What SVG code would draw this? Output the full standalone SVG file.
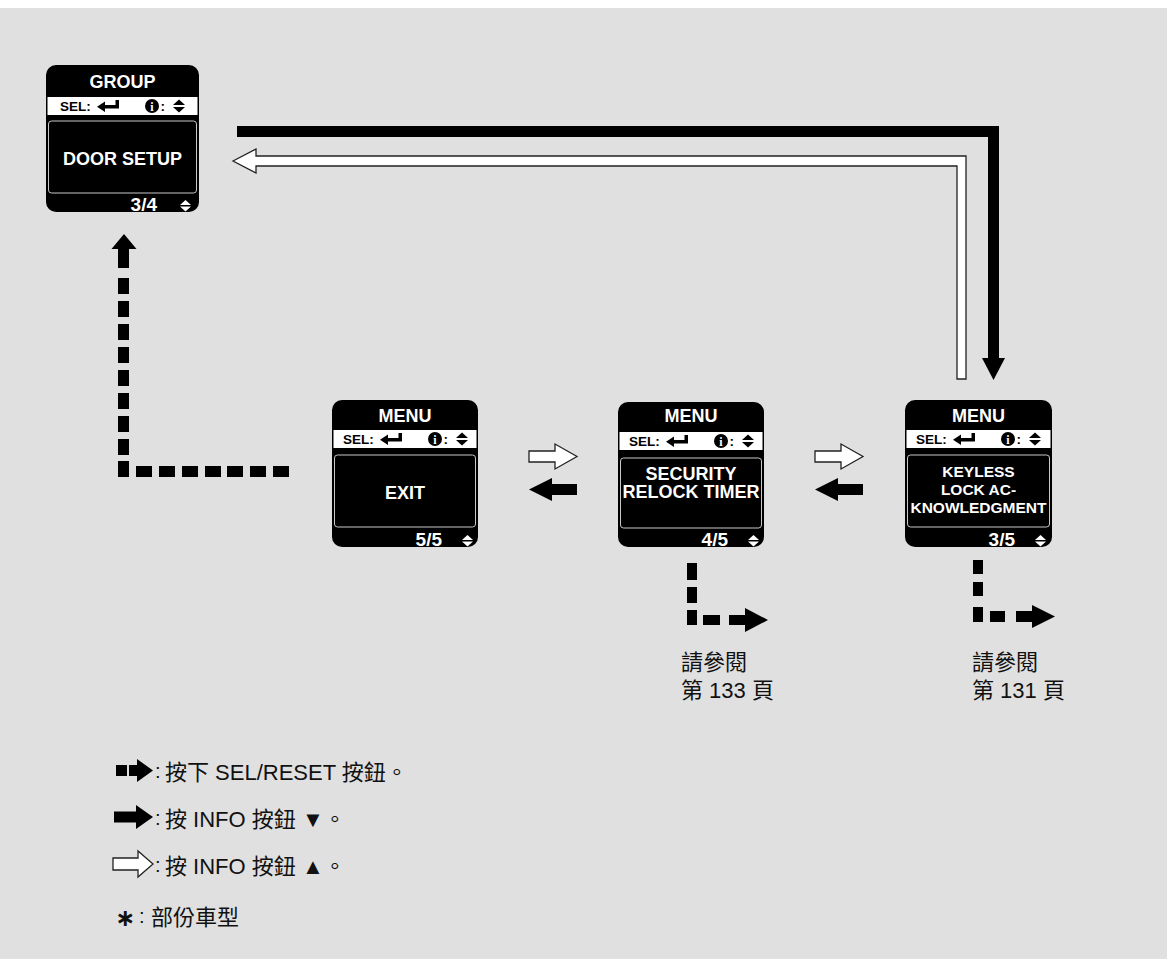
<svg xmlns="http://www.w3.org/2000/svg" xmlns:xlink="http://www.w3.org/1999/xlink" width="1167" height="959" viewBox="0 0 1167 959">
<defs>
<style>
.ttl{font:bold 18px "Liberation Sans",Arial,sans-serif;fill:#fff;text-anchor:middle}
.sel{font:bold 13.5px "Liberation Sans",Arial,sans-serif;fill:#000}
.ii{font:bold 12px "Liberation Serif","Times New Roman",serif;fill:#fff;text-anchor:middle}
.body{font:bold 18px "Liberation Sans",Arial,sans-serif;fill:#fff;text-anchor:middle}
.small{font:bold 15.5px "Liberation Sans",Arial,sans-serif;fill:#fff;text-anchor:middle}
.ft{font:bold 19px "Liberation Sans",Arial,sans-serif;fill:#fff;text-anchor:end}
.cn{font:22px "Liberation Sans","Noto Sans CJK TC",sans-serif;fill:#111}
.col{font:20px "Liberation Sans",Arial,sans-serif;fill:#111}
.frame{fill:none;stroke:#c8c8c8;stroke-width:1}
.wa{fill:#fff;stroke:#222;stroke-width:1.3;stroke-linejoin:miter}
.blk{fill:#000}
</style>
<g id="bar">
<text x="11" y="14" class="sel">SEL:</text>
<path d="M48,9.75 L56,4.5 L56,8 L66.5,8 L66.5,3 L70,3 L70,11.5 L56,11.5 L56,15 Z" fill="#000"/>
<circle cx="103" cy="9" r="7" fill="#000"/>
<text x="103" y="13.5" class="ii">i</text>
<text x="111.5" y="14" class="sel">:</text>
<polygon points="124,8 136,8 130,2.5" fill="#000"/>
<polygon points="124,10 136,10 130,15.5" fill="#000"/>
</g>
<g id="ud" fill="#fff">
<polygon points="0,5 11,5 5.5,0"/>
<polygon points="0,6.5 11,6.5 5.5,11.5"/>
</g>
</defs>

<rect x="0" y="0" width="1167" height="959" fill="#e0e0e0"/>
<rect x="0" y="0" width="1167" height="8" fill="#ffffff"/>

<g id="connectors">
<path d="M237,131.5 H993.5 V359" fill="none" stroke="#000" stroke-width="11"/>
<polygon points="982,358 1005,358 993.5,380" class="blk"/>
<polygon points="233,161 256,149 256,156 966,156 966,379 957,379 957,166 256,166 256,173" class="wa"/>
<g class="blk">
<polygon points="111.5,249 136.5,249 124,234"/>
<rect x="118" y="248" width="11" height="20"/>
<rect x="118" y="278" width="11" height="16"/>
<rect x="118" y="301" width="11" height="16"/>
<rect x="118" y="324" width="11" height="16"/>
<rect x="118" y="347" width="11" height="16"/>
<rect x="118" y="370" width="11" height="16"/>
<rect x="118" y="393" width="11" height="16"/>
<rect x="118" y="416" width="11" height="16"/>
<rect x="118" y="439" width="11" height="16"/>
<rect x="118" y="461" width="11" height="16"/>
<rect x="136" y="466" width="16" height="11"/>
<rect x="159" y="466" width="16" height="11"/>
<rect x="182" y="466" width="16" height="11"/>
<rect x="205" y="466" width="16" height="11"/>
<rect x="227" y="466" width="16" height="11"/>
<rect x="250" y="466" width="16" height="11"/>
<rect x="273" y="466" width="16" height="11"/>
</g>
<polygon points="529,451 555,451 555,444 577,456.5 555,469 555,462 529,462" class="wa"/>
<polygon points="529,489.5 552,478 552,484 577,484 577,495 552,495 552,501" class="blk"/>
<polygon points="815,451 841,451 841,444 863,456.5 841,469 841,462 815,462" class="wa"/>
<polygon points="815,489.5 838,478 838,484 863,484 863,495 838,495 838,501" class="blk"/>
<g class="blk">
<rect x="687" y="563" width="10" height="17"/>
<rect x="687" y="587" width="10" height="16"/>
<rect x="687" y="610" width="10" height="15"/>
<rect x="703" y="615" width="17" height="10"/>
<rect x="729" y="615" width="17" height="10"/>
<polygon points="745,608 745,632 768,620"/>
</g>
<g class="blk">
<rect x="973" y="560" width="10" height="14"/>
<rect x="973" y="582" width="10" height="14"/>
<rect x="973" y="607" width="10" height="15"/>
<rect x="990" y="611" width="15" height="11"/>
<rect x="1016" y="611" width="17" height="11"/>
<polygon points="1032,605 1032,628 1055,616.5"/>
</g>
</g>

<g id="node-group" transform="translate(46,65)">
<rect width="153" height="147" rx="10" fill="#000"/>
<text x="76.5" y="23" class="ttl">GROUP</text>
<rect x="1.5" y="32" width="150" height="18" fill="#fff"/>
<use xlink:href="#bar" x="3" y="32"/>
<rect x="2.5" y="56" width="148" height="72" rx="3" class="frame"/>
<text x="76.5" y="100" class="body">DOOR SETUP</text>
<text x="111" y="146" class="ft">3/4</text>
<use xlink:href="#ud" x="134" y="135"/>
</g>

<g id="node-exit" transform="translate(332,400)">
<rect width="146" height="147" rx="10" fill="#000"/>
<text x="73" y="22" class="ttl">MENU</text>
<rect x="1.5" y="30" width="143" height="18" fill="#fff"/>
<use xlink:href="#bar" x="0" y="30"/>
<rect x="2.5" y="55" width="141" height="72" rx="3" class="frame"/>
<text x="73" y="99" class="body">EXIT</text>
<text x="110" y="146" class="ft">5/5</text>
<use xlink:href="#ud" x="130" y="135"/>
</g>

<g id="node-security" transform="translate(618,402)">
<rect width="146" height="145" rx="10" fill="#000"/>
<text x="73" y="20" class="ttl">MENU</text>
<rect x="1.5" y="30" width="143" height="18" fill="#fff"/>
<use xlink:href="#bar" x="0" y="30"/>
<rect x="2.5" y="56" width="141" height="70" rx="3" class="frame"/>
<text x="73" y="78" class="body">SECURITY</text>
<text x="73" y="96" class="body">RELOCK TIMER</text>
<text x="110" y="144" class="ft">4/5</text>
<use xlink:href="#ud" x="130" y="133"/>
</g>

<g id="node-keyless" transform="translate(905,400)">
<rect width="147" height="147" rx="10" fill="#000"/>
<text x="73.5" y="22" class="ttl">MENU</text>
<rect x="1.5" y="30" width="144" height="18" fill="#fff"/>
<use xlink:href="#bar" x="0" y="30"/>
<rect x="2.5" y="55" width="142" height="72" rx="3" class="frame"/>
<text x="73.5" y="77" class="small">KEYLESS</text>
<text x="73.5" y="95" class="small">LOCK AC-</text>
<text x="73.5" y="113" class="small">KNOWLEDGMENT</text>
<text x="110" y="146" class="ft">3/5</text>
<use xlink:href="#ud" x="130" y="135"/>
</g>

<g id="ref-133">
<text x="681" y="670" class="cn">請參閱</text>
<text x="681" y="698" class="cn">第 133 頁</text>
</g>
<g id="ref-131">
<text x="972" y="670" class="cn">請參閱</text>
<text x="972" y="698" class="cn">第 131 頁</text>
</g>

<g id="legend">
<rect x="116" y="765" width="11" height="11" class="blk"/>
<rect x="129" y="765" width="9" height="11" class="blk"/>
<polygon points="137,759 137,782 153,770.5" class="blk"/>
<text x="155" y="778" class="col">:</text>
<text x="165" y="780" class="cn">按下 SEL/RESET 按鈕。</text>
<rect x="114" y="811.5" width="23" height="11" class="blk"/>
<polygon points="136,805 136,829 153,817" class="blk"/>
<text x="155" y="825" class="col">:</text>
<text x="165" y="827" class="cn">按 INFO 按鈕 ▼。</text>
<polygon points="113,858 138,858 138,851 153,864 138,877 138,870 113,870" class="wa"/>
<text x="155" y="872" class="col">:</text>
<text x="165" y="874" class="cn">按 INFO 按鈕 ▲。</text>
<text x="115" y="926" style="font:bold 24px 'DejaVu Sans',sans-serif;fill:#111">∗</text>
<text x="139" y="923" class="col">:</text>
<text x="151" y="925" class="cn">部份車型</text>
</g>
</svg>
